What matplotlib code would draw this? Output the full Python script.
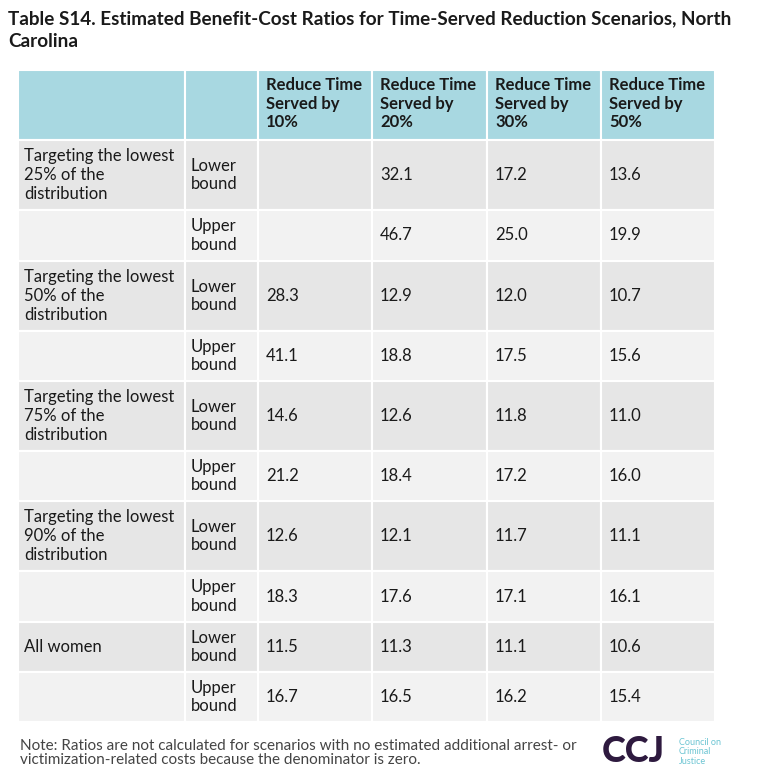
import matplotlib.pyplot as plt
from matplotlib.patches import Rectangle

plt.rcParams['font.family'] = ['Lato', 'DejaVu Sans']

# --- table data ---
col_headers = ["Reduce Time\nServed by\n10%", "Reduce Time\nServed by\n20%",
               "Reduce Time\nServed by\n30%", "Reduce Time\nServed by\n50%"]
groups = ["Targeting the lowest\n25% of the\ndistribution",
          "Targeting the lowest\n50% of the\ndistribution",
          "Targeting the lowest\n75% of the\ndistribution",
          "Targeting the lowest\n90% of the\ndistribution",
          "All women"]
bounds = ["Lower\nbound", "Upper\nbound"]
values = [
    ["", "32.1", "17.2", "13.6"],
    ["", "46.7", "25.0", "19.9"],
    ["28.3", "12.9", "12.0", "10.7"],
    ["41.1", "18.8", "17.5", "15.6"],
    ["14.6", "12.6", "11.8", "11.0"],
    ["21.2", "18.4", "17.2", "16.0"],
    ["12.6", "12.1", "11.7", "11.1"],
    ["18.3", "17.6", "17.1", "16.1"],
    ["11.5", "11.3", "11.1", "10.6"],
    ["16.7", "16.5", "16.2", "15.4"],
]

# --- layout (pixels) ---
W, H = 759, 780
col_x = [18, 185, 258, 372, 487, 601, 715]
row_y = [70, 140, 210, 261, 331, 381, 451, 501, 571, 622, 672, 722]
HEADER = "#a8d8e1"
ODD = "#e6e6e6"
EVEN = "#f2f2f2"
TXT = "#1a1a1a"
FS = 12
LS = 1.2

fig = plt.figure(figsize=(W / 100, H / 100), dpi=100)
ax = fig.add_axes([0, 0, 1, 1])
ax.set_xlim(0, W)
ax.set_ylim(H, 0)
ax.axis('off')

ax.text(8, 30, "Table S14. Estimated Benefit-Cost Ratios for Time-Served Reduction Scenarios, North\nCarolina",
        fontsize=13.6, fontweight='bold', color=TXT, va='center', linespacing=1.4)

def cell(c, r, color):
    x0, x1 = col_x[c], col_x[c + 1]
    y0, y1 = row_y[r], row_y[r + 1]
    ax.add_patch(Rectangle((x0, y0), x1 - x0, y1 - y0, facecolor=color,
                           edgecolor='white', linewidth=1.5))
    return x0, y0, y1

# header
for c in range(6):
    x0, y0, y1 = cell(c, 0, HEADER)
    if c >= 2:
        ax.text(x0 + 8, y0 + 7, col_headers[c - 2], fontsize=FS, fontweight='bold',
                color=TXT, va='top', linespacing=LS)

for i, row in enumerate(values):
    r = i + 1
    color = ODD if i % 2 == 0 else EVEN
    for c in range(6):
        x0, y0, y1 = cell(c, r, color)
        ym = (y0 + y1) / 2
        if c == 0 and i % 2 == 0:
            ax.text(x0 + 6, ym, groups[i // 2], fontsize=FS, color=TXT,
                    va='center', linespacing=LS)
        elif c == 1:
            ax.text(x0 + 6, ym, bounds[i % 2], fontsize=FS, color=TXT,
                    va='center', linespacing=LS)
        elif c >= 2:
            ax.text(x0 + 8, ym, row[c - 2], fontsize=FS, color=TXT, va='center')

ax.text(20, 753, "Note: Ratios are not calculated for scenarios with no estimated additional arrest- or\n"
        "victimization-related costs because the denominator is zero.",
        fontsize=11, color="#444444", va='center', linespacing=1.0)

ax.text(602, 752, "CCJ", fontsize=26, fontweight='black', color="#2e1a3f", va='center')
ax.text(679, 752, "Council on\nCriminal\nJustice", fontsize=6.5, color="#6cc5d3",
        va='center', linespacing=1.1)

fig.savefig("out.png", dpi=100)
